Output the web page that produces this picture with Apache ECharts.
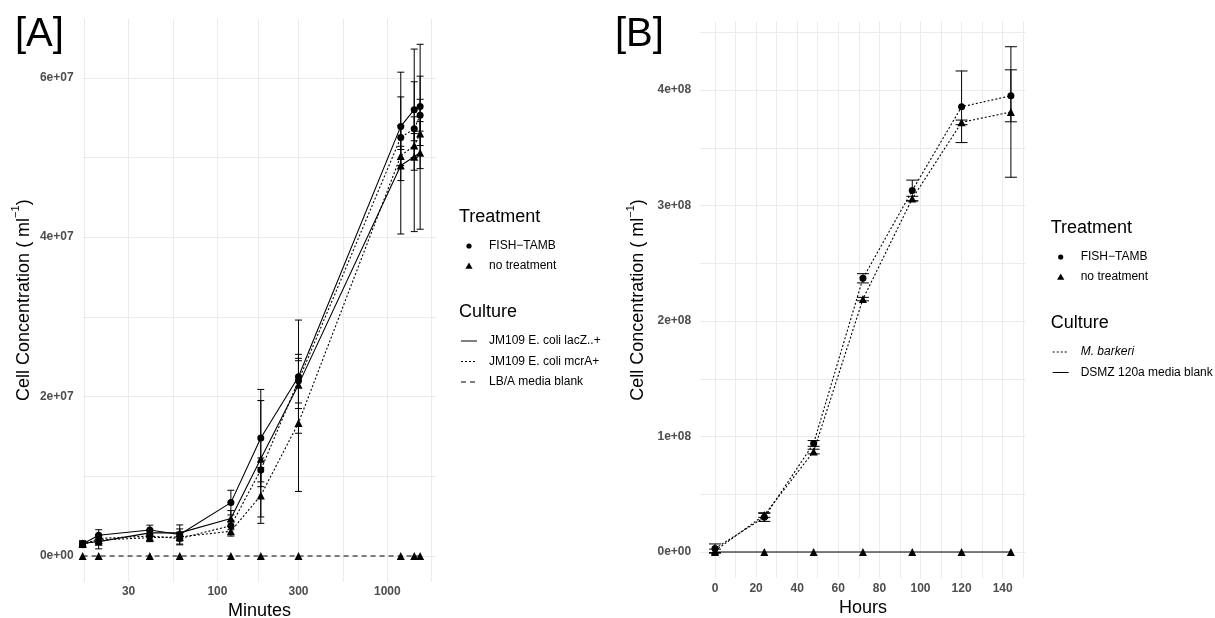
<!DOCTYPE html>
<html><head><meta charset="utf-8">
<script src="https://cdn.jsdelivr.net/npm/echarts@6/dist/echarts.min.js"></script>
<style>html,body{margin:0;padding:0;background:#fff}#c{width:1215px;height:618px}</style>
</head><body><div id="c"></div>
<script>
// ---------------- Panel A (minutes, log x; sample at 0 min sits on the left edge)
const minutesA = [0, 20, 40, 60, 120, 180, 300, 1200, 1440, 1560];
const lacZ_FISH    = [1.5e6, 2.6e6, 3.27e6, 2.7e6, 6.7e6, 14.8e6, 22.5e6, 53.9e6, 56.0e6, 56.4e6];
const lacZ_FISH_sd = [0.4e6, 0.7e6, 0.6e6, 1.2e6, 1.55e6, 6.1e6, 7.1e6, 6.8e6, 7.6e6, 7.8e6];
const lacZ_none    = [1.6e6, 1.8e6, 2.9e6, 2.9e6, 4.7e6, 12.2e6, 21.5e6, 49.0e6, 50.1e6, 50.6e6];
const lacZ_none_sd = [0.3e6, 0.9e6, 0.4e6, 0.5e6, 1.0e6, 7.3e6, 3.0e6, 8.6e6, 9.4e6, 9.6e6];
const mcrA_FISH    = [1.4e6, 2.2e6, 2.5e6, 2.2e6, 3.8e6, 10.8e6, 22.0e6, 52.5e6, 53.6e6, 55.3e6];
const mcrA_FISH_sd = [0.3e6, 0.4e6, 0.5e6, 0.8e6, 0.5e6, 1.5e6, 2.8e6, 1.5e6, 1.5e6, 2.0e6];
const mcrA_none    = [1.5e6, 2.0e6, 2.3e6, 2.4e6, 3.1e6, 7.6e6, 16.7e6, 50.2e6, 51.5e6, 53.0e6];
const mcrA_none_sd = [0.3e6, 0.5e6, 0.5e6, 0.5e6, 0.6e6, 3.5e6, 8.6e6, 1.2e6, 1.5e6, 1.5e6];
const blankA       = [0, 0, 0, 0, 0, 0, 0, 0, 0, 0];
const blankA_sd    = [0, 0, 0, 0, 0, 0, 0, 0, 0, 0];
const tickMinutes  = [30, 100, 300, 1000];
const tickA_y      = [0, 2e7, 4e7, 6e7];

// ---------------- Panel B (hours)
const hoursB = [0, 24, 48, 72, 96, 120, 144];
const barkeri_FISH    = [3e6, 30e6, 94e6, 237e6, 313e6, 385.5e6, 395e6];
const barkeri_FISH_sd = [4e6, 3.5e6, 2.5e6, 4e6, 9e6, 31e6, 22.5e6];
const barkeri_none    = [1e6, 32e6, 87e6, 219e6, 306e6, 372e6, 381e6];
const barkeri_none_sd = [1.5e6, 2e6, 2e6, 1.5e6, 2e6, 2e6, 56.5e6];
const blankB          = [0, 0, 0, 0, 0, 0, 0];
const blankB_sd       = [0, 0, 0, 0, 0, 0, 0];
const tickHours = [0, 20, 40, 60, 80, 100, 120, 140];
const tickB_y   = [0, 1e8, 2e8, 3e8, 4e8];

const treatments = ['FISH\u2212TAMB', 'no treatment'];
const culturesA  = ['JM109 E. coli lacZ..+', 'JM109 E. coli mcrA+', 'LB/A media blank'];
const culturesB  = ['M. barkeri', 'DSMZ 120a media blank'];

// ---------------- helpers
const FONT = '"Liberation Sans", Arial, Helvetica, sans-serif';
const DOT = [2, 2], DASH = [5, 4];
function expand(lo, hi, f) { const d = (hi - lo) * f; return [lo - d, hi + d]; }
function midpoints(arr, lo, hi) {
  const out = [];
  const step0 = arr[1] - arr[0], stepN = arr[arr.length - 1] - arr[arr.length - 2];
  const ext = [arr[0] - step0].concat(arr, [arr[arr.length - 1] + stepN]);
  for (let i = 0; i < ext.length - 1; i++) out.push((ext[i] + ext[i + 1]) / 2);
  return out.filter(v => v >= lo && v <= hi);
}
function sci(v) {
  if (Math.abs(v) < 1e-9) return '0e+00';
  const e = Math.floor(Math.log10(Math.abs(v)) + 1e-9);
  const m = Math.round(v / Math.pow(10, e));
  return m + 'e' + (e < 0 ? '-' : '+') + String(Math.abs(e)).padStart(2, '0');
}
function rangeOf(vals, sds) {
  let lo = Infinity, hi = -Infinity;
  vals.forEach((v, k) => v.forEach((x, i) => { lo = Math.min(lo, x - sds[k][i]); hi = Math.max(hi, x + sds[k][i]); }));
  return [lo, hi];
}

// ---------------- scales
const logNZ = minutesA.filter(t => t > 0).map(t => Math.log10(t));
const [xMinA, xMaxA] = expand(Math.min(...logNZ), Math.max(...logNZ), 0.05);
const xA = t => (t > 0 ? Math.log10(t) : xMinA);
const rA = rangeOf([lacZ_FISH, lacZ_none, mcrA_FISH, mcrA_none, blankA],
                   [lacZ_FISH_sd, lacZ_none_sd, mcrA_FISH_sd, mcrA_none_sd, blankA_sd]);
const [yMinA, yMaxA] = expand(rA[0], rA[1], 0.05);
const [xMinB, xMaxB] = expand(Math.min(...hoursB), Math.max(...hoursB), 0.05);
const rB = rangeOf([barkeri_FISH, barkeri_none, blankB], [barkeri_FISH_sd, barkeri_none_sd, blankB_sd]);
const [yMinB, yMaxB] = expand(rB[0], rB[1], 0.05);

const majXA = tickMinutes.map(t => Math.log10(t));
const gridXA = majXA.concat(midpoints(majXA, xMinA, xMaxA));
const gridYA = tickA_y.concat(midpoints(tickA_y, yMinA, yMaxA));
const gridXB = tickHours.concat(midpoints(tickHours, xMinB, xMaxB));
const gridYB = tickB_y.concat(midpoints(tickB_y, yMinB, yMaxB));

const splitLine = { show: true, lineStyle: { color: '#EBEBEB', width: 1 } };
const tickLabel = { color: '#4D4D4D', fontWeight: 'bold', fontSize: 12, fontFamily: FONT };
const yName = '{t|Cell Concentration ( ml}{s|\u22121}{t|)}';
const yNameStyle = { rich: {
  t: { fontSize: 18, color: '#000', fontFamily: FONT, verticalAlign: 'bottom', lineHeight: 22 },
  s: { fontSize: 11, color: '#000', fontFamily: FONT, verticalAlign: 'top', lineHeight: 11 } } };

function errRender(half) {
  return function (params, api) {
    const x = api.value(0), v = api.value(1), s = api.value(2);
    const hi = api.coord([x, v + s]), lo = api.coord([x, v - s]);
    const style = { stroke: '#000', lineWidth: 1, fill: null };
    return { type: 'group', children: [
      { type: 'line', shape: { x1: hi[0], y1: hi[1], x2: lo[0], y2: lo[1] }, style },
      { type: 'line', shape: { x1: hi[0] - half, y1: hi[1], x2: hi[0] + half, y2: hi[1] }, style },
      { type: 'line', shape: { x1: lo[0] - half, y1: lo[1], x2: lo[0] + half, y2: lo[1] }, style }
    ] };
  };
}

const series = [];
function addSeries(idx, xs, xf, vals, sds, dash, sym, half, withErr) {
  series.push({
    type: 'line', xAxisIndex: idx, yAxisIndex: idx, animation: false, silent: true,
    data: xs.map((t, i) => [xf(t), vals[i]]),
    symbol: sym, symbolSize: sym === 'circle' ? 7 : 8, showSymbol: true,
    lineStyle: { color: '#000', width: 1.1, type: dash },
    itemStyle: { color: '#000' }, z: 3
  });
  if (withErr) series.push({
    type: 'custom', xAxisIndex: idx, yAxisIndex: idx, animation: false, silent: true,
    data: xs.map((t, i) => [xf(t), vals[i], sds[i]]),
    renderItem: errRender(half), z: 4
  });
}
addSeries(0, minutesA, xA, blankA, blankA_sd, DASH, 'triangle', 3.5, false);
addSeries(0, minutesA, xA, mcrA_none, mcrA_none_sd, DOT, 'triangle', 3.5, true);
addSeries(0, minutesA, xA, mcrA_FISH, mcrA_FISH_sd, DOT, 'circle', 3.5, true);
addSeries(0, minutesA, xA, lacZ_none, lacZ_none_sd, 'solid', 'triangle', 3.5, true);
addSeries(0, minutesA, xA, lacZ_FISH, lacZ_FISH_sd, 'solid', 'circle', 3.5, true);
const idB = t => t;
addSeries(1, hoursB, idB, blankB, blankB_sd, 'solid', 'triangle', 6, false);
addSeries(1, hoursB, idB, barkeri_none, barkeri_none_sd, DOT, 'triangle', 6, true);
addSeries(1, hoursB, idB, barkeri_FISH, barkeri_FISH_sd, DOT, 'circle', 6, true);

// ---------------- legends (graphic)
function legend(x0, yTop, cultures, cultureDash, italicFirst) {
  const g = [];
  const txt = (x, y, s, size, italic) => ({ type: 'text', x, y, silent: true,
    style: { text: s, fontSize: size, fontFamily: FONT, fontStyle: italic ? 'italic' : 'normal', fill: '#000', align: 'left', verticalAlign: 'middle' } });
  const symX = x0 + 10, txtX = x0 + 30;
  let y = yTop;
  g.push(txt(x0, y, 'Treatment', 18));
  y += 29;
  g.push({ type: 'circle', silent: true, shape: { cx: symX, cy: y, r: 2.6 }, style: { fill: '#000' } });
  g.push(txt(txtX, y, treatments[0], 12));
  y += 20;
  g.push({ type: 'polygon', silent: true, shape: { points: [[symX, y - 3.5], [symX + 3.6, y + 2.8], [symX - 3.6, y + 2.8]] }, style: { fill: '#000' } });
  g.push(txt(txtX, y, treatments[1], 12));
  y += 46;
  g.push(txt(x0, y, 'Culture', 18));
  y += 29;
  cultures.forEach((c, i) => {
    const d = cultureDash[i];
    g.push({ type: 'line', silent: true, shape: { x1: x0 + 2, y1: y, x2: x0 + 18, y2: y },
      style: { stroke: '#000', lineWidth: 1, lineDash: d === 'solid' ? null : d } });
    g.push(txt(txtX, y, c, 12, italicFirst && i === 0));
    y += 20.5;
  });
  return g;
}
const graphics = []
  .concat(legend(459, 217, culturesA, ['solid', DOT, DASH], false))
  .concat(legend(1050.7, 228, culturesB, [DOT, 'solid'], true));
graphics.push({ type: 'text', x: 15, y: 35, silent: true, style: { text: '[A]', fontSize: 40, fontFamily: FONT, fill: '#000', verticalAlign: 'middle' } });
graphics.push({ type: 'text', x: 615, y: 35, silent: true, style: { text: '[B]', fontSize: 40, fontFamily: FONT, fill: '#000', verticalAlign: 'middle' } });

const option = {
  backgroundColor: '#fff',
  animation: false,
  grid: [
    { left: 82.6, top: 18.7, width: 353.6, height: 562.9, containLabel: false, outerBoundsMode: 'none' },
    { left: 700.2, top: 21.4, width: 325.5, height: 557.1, containLabel: false, outerBoundsMode: 'none' }
  ],
  xAxis: [
    { type: 'value', gridIndex: 0, min: xMinA, max: xMaxA,
      axisLine: { show: false }, axisTick: { show: false, customValues: gridXA },
      axisLabel: Object.assign({ customValues: majXA, margin: 4, formatter: v => String(Math.round(Math.pow(10, v))) }, tickLabel),
      splitLine, name: 'Minutes', nameLocation: 'middle', nameGap: 14,
      nameTextStyle: { fontSize: 18, color: '#000', fontFamily: FONT } },
    { type: 'value', gridIndex: 1, min: xMinB, max: xMaxB,
      axisLine: { show: false }, axisTick: { show: false, customValues: gridXB },
      axisLabel: Object.assign({ customValues: tickHours, margin: 4, formatter: v => String(v) }, tickLabel),
      splitLine, name: 'Hours', nameLocation: 'middle', nameGap: 14,
      nameTextStyle: { fontSize: 18, color: '#000', fontFamily: FONT } }
  ],
  yAxis: [
    { type: 'value', gridIndex: 0, min: yMinA, max: yMaxA,
      axisLine: { show: false }, axisTick: { show: false, customValues: gridYA },
      axisLabel: Object.assign({ customValues: tickA_y, margin: 9, formatter: sci }, tickLabel),
      splitLine, name: yName, nameLocation: 'middle', nameRotate: 90, nameGap: 50, nameTextStyle: yNameStyle },
    { type: 'value', gridIndex: 1, min: yMinB, max: yMaxB,
      axisLine: { show: false }, axisTick: { show: false, customValues: gridYB },
      axisLabel: Object.assign({ customValues: tickB_y, margin: 9, formatter: sci }, tickLabel),
      splitLine, name: yName, nameLocation: 'middle', nameRotate: 90, nameGap: 53, nameTextStyle: yNameStyle }
  ],
  graphic: graphics,
  series
};
const chart = echarts.init(document.getElementById('c'), null, { renderer: 'canvas' });
chart.setOption(option);
</script></body></html>
